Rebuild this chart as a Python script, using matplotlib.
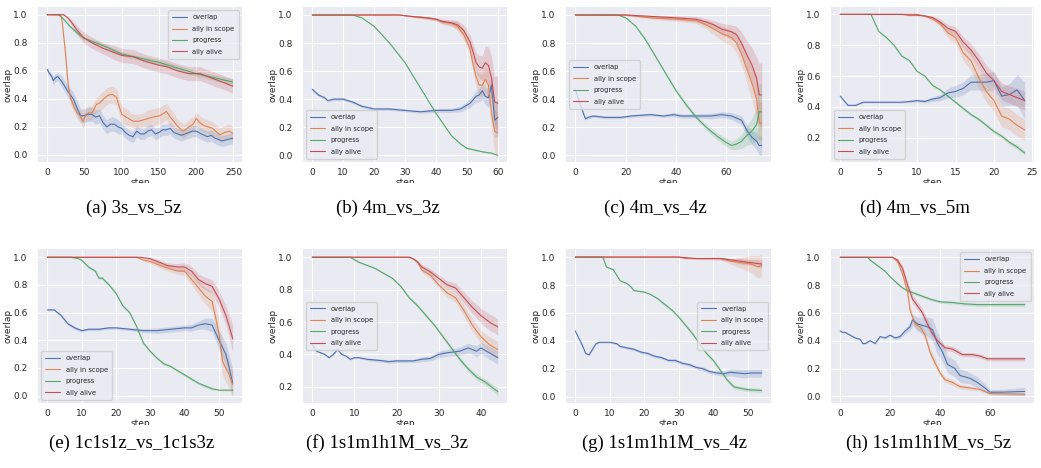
import numpy as np
import matplotlib
matplotlib.use("Agg")
import matplotlib.pyplot as plt
import seaborn as sns
from matplotlib.transforms import Bbox, TransformedBbox

# -----------------------------------------------------------------------------
# Data: (step, mean, half-width of shaded band)
# -----------------------------------------------------------------------------
SERIES_NAMES = ["overlap", "ally in scope", "progress", "ally alive"]
SERIES_COLORS = ["#4C72B0", "#DD8452", "#55A868", "#C44E52"]

# (a) 3s_vs_5z
a_overlap = [(0, .61, .02), (3, .58, .02), (6, .56, .02), (8, .53, .03), (11, .55, .03), (14, .56, .03),
             (20, .52, .04), (28, .45, .04), (35, .40, .05), (42, .31, .05), (45, .28, .05), (50, .28, .05),
             (55, .29, .05), (60, .29, .05), (65, .27, .05), (70, .28, .05), (75, .23, .05), (80, .20, .05),
             (85, .22, .05), (90, .22, .05), (95, .20, .05), (100, .19, .04), (105, .16, .04), (110, .14, .04),
             (115, .13, .04), (120, .17, .04), (125, .15, .04), (130, .15, .04), (135, .17, .04), (140, .18, .04),
             (145, .15, .04), (150, .16, .04), (155, .18, .04), (160, .18, .04), (165, .19, .04), (170, .16, .04),
             (175, .15, .04), (180, .14, .04), (185, .15, .04), (190, .16, .04), (195, .17, .04), (200, .17, .04),
             (207, .15, .04), (215, .13, .04), (220, .14, .04), (225, .12, .04), (230, .11, .04), (235, .10, .04),
             (242, .11, .04), (249, .12, .04)]
a_scope = [(0, 1, 0), (18, 1, 0), (20, .95, .01), (24, .75, .03), (28, .50, .04), (31, .41, .04), (36, .34, .04),
           (40, .30, .04), (44, .28, .04), (48, .24, .05), (52, .29, .05), (56, .30, .05), (60, .30, .05),
           (66, .36, .05), (70, .37, .06), (76, .40, .06), (80, .42, .06), (84, .43, .06), (88, .43, .06),
           (93, .41, .06), (97, .34, .06), (100, .29, .06), (106, .27, .06), (112, .25, .05), (116, .24, .05),
           (122, .24, .05), (129, .25, .05), (135, .26, .06), (142, .27, .06), (151, .28, .06), (160, .31, .06),
           (165, .27, .06), (170, .24, .06), (174, .21, .05), (178, .19, .05), (183, .17, .05), (190, .20, .05),
           (196, .22, .05), (200, .26, .05), (205, .23, .05), (210, .21, .05), (216, .20, .05), (222, .19, .05),
           (228, .16, .05), (232, .145, .05), (238, .16, .05), (244, .17, .05), (249, .155, .05)]
a_progress = [(0, 1, 0), (15, 1, 0), (20, .98, .005), (25, .95, .01), (30, .92, .01), (40, .87, .015),
              (50, .83, .015), (60, .81, .015), (75, .78, .015), (100, .72, .015), (125, .69, .015),
              (150, .66, .02), (175, .62, .02), (200, .58, .02), (225, .55, .02), (249, .52, .025)]
a_alive = [(0, 1, 0), (22, 1, .005), (27, .98, .01), (32, .95, .02), (40, .89, .03), (48, .84, .04),
           (60, .80, .04), (75, .76, .04), (90, .73, .05), (100, .71, .05), (116, .70, .05), (130, .67, .05),
           (150, .64, .05), (160, .63, .05), (175, .60, .05), (190, .58, .05), (205, .58, .05), (225, .54, .05),
           (240, .51, .05), (249, .49, .05)]

# (b) 4m_vs_3z
b_overlap = [(0, .47, .01), (2, .43, .01), (4, .41, .01), (5, .39, .01), (7, .40, .01), (10, .40, .01),
             (13, .38, .01), (16, .35, .01), (20, .33, .01), (25, .33, .01), (30, .32, .01), (35, .31, .01),
             (40, .32, .015), (45, .32, .015), (48, .33, .02), (51, .37, .03), (53, .42, .04), (54, .43, .05),
             (55, .46, .06), (56, .42, .06), (57, .41, .07), (58, .50, .08), (59, .25, .12), (60, .27, .14)]
b_scope = [(0, 1, 0), (28, 1, 0), (32, .99, .005), (37, .98, .01), (40, .97, .01), (42, .95, .015),
           (45, .94, .02), (47, .92, .03), (49, .86, .04), (51, .76, .05), (52, .65, .06), (53, .56, .07),
           (54, .50, .08), (55, .50, .08), (56, .54, .09), (57, .50, .10), (58, .30, .12), (59, .17, .15),
           (60, .16, .15)]
b_progress = [(0, 1, 0), (13, 1, 0), (16, .98, 0), (20, .92, .005), (25, .80, .005), (30, .66, .005),
              (35, .48, .005), (40, .30, .005), (45, .14, .005), (48, .08, .005), (50, .05, .005),
              (55, .025, .005), (58, .015, .005), (60, .0, .005)]
b_alive = [(0, 1, 0), (28, 1, 0), (32, .99, .005), (37, .98, .01), (40, .97, .01), (42, .955, .015),
           (45, .945, .02), (47, .93, .03), (49, .89, .04), (51, .81, .05), (52, .74, .06), (53, .66, .07),
           (54, .63, .08), (55, .62, .09), (56, .66, .12), (57, .64, .13), (58, .55, .15), (59, .38, .18),
           (60, .37, .20)]

# (c) 4m_vs_4z
c_overlap = [(0, .47, .01), (2, .36, .01), (4, .26, .01), (5, .27, .01), (7, .28, .01), (12, .27, .01),
             (18, .27, .01), (22, .28, .01), (30, .29, .01), (35, .28, .01), (39, .29, .015), (42, .28, .015),
             (48, .28, .015), (54, .28, .02), (58, .29, .02), (62, .28, .025), (66, .25, .03), (68, .18, .04),
             (70, .13, .05), (72, .10, .06), (73, .07, .07), (74, .07, .07)]
c_scope = [(0, 1, 0), (20, 1, .005), (30, .98, .01), (40, .97, .015), (48, .96, .02), (52, .93, .03),
           (55, .90, .04), (58, .87, .05), (62, .84, .06), (64, .80, .07), (66, .72, .08), (68, .62, .10),
           (70, .52, .12), (72, .40, .14), (73, .23, .15), (74, .23, .15)]
c_progress = [(0, 1, 0), (17, 1, 0), (20, .98, .005), (24, .92, .005), (28, .82, .01), (32, .70, .01),
              (36, .58, .01), (40, .46, .01), (44, .36, .015), (48, .27, .015), (52, .20, .02), (56, .14, .025),
              (60, .09, .03), (62, .07, .03), (64, .08, .04), (66, .10, .05), (68, .14, .07), (70, .17, .09),
              (72, .22, .12), (73, .31, .20), (74, .31, .20)]
c_alive = [(0, 1, 0), (20, 1, .005), (30, .99, .01), (40, .98, .015), (48, .97, .02), (52, .95, .025),
           (55, .93, .03), (58, .90, .04), (62, .88, .05), (64, .86, .06), (66, .80, .08), (68, .72, .10),
           (70, .65, .12), (72, .55, .15), (73, .43, .22), (74, .43, .24)]

# (d) 4m_vs_5m
d_overlap = [(0, .47, .005), (1, .41, .005), (2, .41, .005), (3, .43, .005), (4, .43, .005), (5, .43, .005),
             (6, .43, .005), (7, .43, .005), (8, .43, .005), (9, .435, .008), (10, .44, .01), (11, .435, .01),
             (12, .45, .015), (13, .46, .02), (14, .49, .03), (15, .50, .04), (16, .52, .04), (17, .56, .05),
             (18, .56, .05), (19, .56, .06), (20, .57, .06), (21, .47, .06), (22, .48, .07), (23, .51, .10),
             (24, .44, .12)]
d_scope = [(0, 1, 0), (10, 1, 0), (11, .99, .005), (12, .97, .01), (13, .94, .02), (14, .88, .03),
           (15, .85, .04), (16, .75, .05), (17, .70, .06), (18, .59, .07), (19, .50, .07), (20, .44, .07),
           (21, .34, .07), (22, .32, .07), (23, .28, .07), (24, .25, .07)]
d_progress = [(0, 1, 0), (4, 1, 0), (5, .89, .005), (6, .85, .005), (7, .80, .005), (8, .73, .005),
              (9, .70, .005), (10, .63, .005), (11, .60, .005), (12, .54, .008), (13, .51, .008), (14, .47, .008),
              (15, .43, .01), (16, .39, .01), (17, .35, .01), (18, .32, .01), (19, .28, .01), (20, .24, .012),
              (21, .21, .012), (22, .17, .012), (23, .14, .015), (24, .10, .015)]
d_alive = [(0, 1, 0), (8, 1, 0), (9, .995, .005), (10, .995, .005), (11, .99, .005), (12, .98, .01),
           (13, .95, .02), (14, .91, .025), (15, .89, .03), (16, .82, .035), (17, .77, .04), (18, .70, .045),
           (19, .62, .05), (20, .57, .05), (21, .50, .055), (22, .48, .055), (23, .46, .06), (24, .44, .06)]

# (e) 1c1s1z_vs_1c1s3z
e_overlap = [(0, .62, .005), (2, .62, .005), (4, .58, .01), (6, .52, .01), (8, .49, .01), (10, .47, .01),
             (12, .48, .01), (15, .48, .01), (18, .49, .01), (20, .49, .01), (24, .48, .01), (28, .47, .015),
             (32, .47, .02), (36, .48, .02), (40, .49, .02), (42, .49, .025), (44, .51, .03), (46, .52, .04),
             (48, .51, .05), (50, .40, .07), (52, .30, .08), (53, .20, .09), (54, .09, .10)]
e_scope = [(0, 1, 0), (26, 1, 0), (28, .98, .01), (30, .97, .015), (34, .93, .02), (38, .90, .025),
           (40, .90, .03), (42, .84, .04), (44, .78, .05), (46, .72, .06), (48, .68, .07), (50, .45, .10),
           (51, .25, .10), (53, .15, .10), (54, .08, .09)]
e_progress = [(0, 1, 0), (7, 1, 0), (9, .99, 0), (10, .98, .005), (12, .93, .01), (14, .90, .01),
              (15, .85, .01), (16, .85, .01), (18, .80, .01), (20, .74, .01), (22, .65, .01), (24, .60, .01),
              (26, .50, .01), (27, .44, .01), (28, .38, .01), (30, .32, .01), (32, .27, .01), (34, .23, .01),
              (36, .21, .01), (38, .18, .01), (40, .15, .01), (42, .12, .01), (44, .09, .01), (46, .07, .01),
              (48, .05, .01), (50, .04, .005), (54, .04, .005)]
e_alive = [(0, 1, 0), (27, 1, 0), (30, .99, .01), (32, .97, .015), (35, .94, .02), (38, .93, .025),
           (40, .93, .03), (42, .90, .035), (44, .84, .04), (46, .81, .045), (48, .79, .05), (50, .70, .06),
           (52, .58, .07), (53, .50, .08), (54, .41, .10)]

# (f) 1s1m1h1M_vs_3z
f_overlap = [(0, .46, .005), (1, .42, .005), (3, .40, .005), (4, .38, .005), (5, .40, .005), (6, .43, .005),
             (7, .40, .005), (8, .39, .005), (9, .37, .005), (10, .38, .005), (11, .38, .005), (13, .37, .008),
             (17, .36, .01), (18, .355, .01), (20, .36, .01), (24, .36, .01), (26, .37, .015), (28, .375, .015),
             (30, .40, .02), (32, .41, .02), (35, .42, .025), (37, .44, .03), (38, .43, .03), (39, .42, .035),
             (40, .44, .035), (42, .41, .04), (44, .38, .04)]
f_scope = [(0, 1, 0), (23, 1, 0), (24, .99, .005), (25, .97, .01), (26, .92, .015), (28, .89, .02),
           (30, .83, .02), (32, .78, .025), (34, .75, .03), (36, .67, .035), (38, .58, .04), (40, .51, .04),
           (42, .46, .05), (44, .43, .05)]
f_progress = [(0, 1, 0), (9, 1, 0), (11, .97, .005), (13, .95, .005), (15, .93, .005), (17, .90, .005),
              (19, .87, .005), (21, .82, .008), (23, .75, .008), (25, .70, .01), (27, .64, .01), (29, .58, .01),
              (31, .51, .012), (33, .44, .012), (35, .37, .015), (37, .31, .015), (39, .26, .02), (41, .23, .02),
              (43, .19, .02), (44, .17, .025)]
f_alive = [(0, 1, 0), (23, 1, 0), (24, .99, .005), (25, .97, .01), (26, .94, .015), (28, .91, .02),
           (30, .87, .02), (32, .83, .025), (34, .81, .03), (36, .75, .035), (38, .69, .04), (40, .64, .045),
           (42, .60, .05), (44, .57, .05)]

# (g) 1s1m1h1M_vs_4z
g_overlap = [(0, .47, .005), (1, .42, .005), (2, .37, .005), (3, .31, .005), (4, .30, .005), (5, .34, .005),
             (6, .38, .005), (7, .39, .005), (10, .39, .005), (12, .38, .008), (13, .36, .008), (15, .35, .01),
             (17, .34, .01), (19, .32, .01), (21, .31, .01), (23, .29, .01), (25, .28, .01), (27, .26, .01),
             (29, .26, .012), (31, .24, .012), (33, .23, .012), (35, .21, .012), (37, .20, .015), (39, .18, .015),
             (41, .17, .015), (43, .165, .02), (45, .175, .025), (47, .17, .03), (49, .165, .03), (51, .17, .03),
             (54, .17, .03)]
g_scope = [(0, 1, 0), (30, 1, 0), (32, .99, .005), (42, .99, .01), (45, .97, .02), (48, .96, .04),
           (51, .95, .06), (53, .93, .08), (54, .94, .08)]
g_progress = [(0, 1, 0), (8, 1, 0), (9, .93, .005), (11, .91, .005), (12, .87, .005), (13, .83, .005),
              (15, .81, .005), (16, .79, .005), (17, .76, .005), (20, .75, .005), (22, .73, .005), (24, .70, .008),
              (26, .66, .008), (28, .62, .008), (30, .57, .01), (32, .51, .01), (34, .45, .01), (36, .38, .01),
              (38, .31, .01), (40, .26, .012), (42, .19, .012), (44, .12, .015), (46, .07, .015), (48, .06, .015),
              (50, .05, .015), (54, .045, .015)]
g_alive = [(0, 1, 0), (30, 1, 0), (35, .99, .005), (42, .99, .01), (45, .98, .01), (48, .97, .02),
           (51, .96, .02), (54, .95, .03)]

# (h) 1s1m1h1M_vs_5z
h_overlap = [(0, .47, .005), (1, .46, .005), (2, .46, .005), (4, .44, .005), (6, .42, .005), (8, .41, .005),
             (9, .38, .005), (10, .38, .005), (12, .40, .005), (14, .38, .005), (16, .43, .005), (18, .42, .005),
             (20, .44, .01), (22, .42, .01), (24, .43, .015), (26, .47, .02), (28, .50, .03), (29, .55, .04),
             (31, .52, .05), (33, .51, .06), (35, .50, .07), (37, .48, .08), (39, .38, .08), (41, .32, .07),
             (43, .23, .06), (46, .20, .06), (48, .15, .05), (52, .13, .04), (55, .10, .04), (58, .06, .03),
             (60, .03, .02), (65, .03, .02), (74, .035, .03)]
h_scope = [(0, 1, 0), (21, 1, 0), (23, .97, .02), (25, .88, .03), (27, .75, .03), (28, .62, .03),
           (30, .52, .03), (32, .50, .03), (34, .44, .03), (36, .32, .03), (38, .24, .03), (40, .17, .02),
           (42, .12, .02), (45, .10, .02), (48, .07, .015), (52, .06, .015), (56, .05, .01), (60, .02, .01),
           (74, .015, .01)]
h_progress = [(0, 1, 0), (11, 1, 0), (12, .98, .005), (15, .94, .005), (18, .90, .005), (20, .86, .005),
              (23, .81, .008), (25, .78, .008), (27, .76, .008), (30, .74, .01), (33, .72, .01), (36, .70, .01),
              (40, .68, .01), (45, .675, .01), (50, .665, .01), (55, .66, .012), (60, .66, .012), (74, .66, .015)]
h_alive = [(0, 1, 0), (21, 1, 0), (23, .98, .01), (25, .92, .02), (27, .80, .03), (29, .70, .03),
           (31, .65, .03), (33, .60, .03), (35, .52, .03), (37, .45, .03), (39, .40, .02), (42, .35, .02),
           (45, .34, .02), (47, .32, .02), (49, .30, .015), (53, .30, .015), (56, .29, .015), (59, .27, .015),
           (74, .27, .015)]

CAPTIONS = ["(a) 3s_vs_5z", "(b) 4m_vs_3z", "(c) 4m_vs_4z", "(d) 4m_vs_5m",
            "(e) 1c1s1z_vs_1c1s3z", "(f) 1s1m1h1M_vs_3z", "(g) 1s1m1h1M_vs_4z", "(h) 1s1m1h1M_vs_5z"]
PANELS = [
    [a_overlap, a_scope, a_progress, a_alive],
    [b_overlap, b_scope, b_progress, b_alive],
    [c_overlap, c_scope, c_progress, c_alive],
    [d_overlap, d_scope, d_progress, d_alive],
    [e_overlap, e_scope, e_progress, e_alive],
    [f_overlap, f_scope, f_progress, f_alive],
    [g_overlap, g_scope, g_progress, g_alive],
    [h_overlap, h_scope, h_progress, h_alive],
]
LEGEND_LOCS = ["upper right", "lower left", "center left", "lower left",
               "lower left", "center left", "center right", "upper right"]
YLIMS = [(-0.05, 1.055), (-0.048, 1.057), (-0.048, 1.057), (0.042, 1.048),
         (-0.053, 1.06), (0.10, 1.051), (-0.045, 1.058), (-0.048, 1.06)]

# -----------------------------------------------------------------------------
# Layout (pixels of a 1041x468 canvas)
# -----------------------------------------------------------------------------
W, H = 1041, 468
COL_X = [(38, 242), (303, 507), (566, 771), (831, 1034)]
ROW_Y = [(7, 162), (249, 403)]
STEP_CLIP_Y = [182.5, 424.5]
CAPTION_X = [134, 388, 655, 915, 132, 387, 665, 929]
CAPTION_Y = [208, 443]

sns.set_style("darkgrid")
plt.rcParams["font.family"] = ["DejaVu Sans"]

fig = plt.figure(figsize=(W / 100, H / 100), dpi=100)

for k, series in enumerate(PANELS):
    row, col = divmod(k, 4)
    x0, x1 = COL_X[col]
    y0, y1 = ROW_Y[row]
    ax = fig.add_axes([x0 / W, 1 - y1 / H, (x1 - x0) / W, (y1 - y0) / H])

    for name, color, pts in zip(SERIES_NAMES, SERIES_COLORS, series):
        arr = np.array(pts, dtype=float)
        steps, mean, half = arr[:, 0], arr[:, 1], arr[:, 2]
        ax.plot(steps, mean, color=color, lw=0.8, label=name)
        ax.fill_between(steps, mean - half, mean + half, color=color, alpha=0.2, lw=0)

    ax.set_ylim(*YLIMS[k])
    ax.tick_params(axis="x", labelsize=6.5, pad=0.6, colors=".15")
    ax.tick_params(axis="y", labelsize=6.5, pad=4, colors=".15")
    ax.set_xlabel("step", fontsize=6.5, labelpad=0.8, color=".15")
    ax.set_ylabel("overlap", fontsize=6.5, labelpad=0.5, color=".15")
    for sp in ax.spines.values():
        sp.set_visible(False)

    # the reference image cuts the x label in half
    ax.xaxis.label.set_clip_box(TransformedBbox(Bbox([[0, 1 - STEP_CLIP_Y[row] / H], [1, 1]]),
                                                fig.transFigure))
    ax.xaxis.label.set_clip_on(True)

    leg = ax.legend(loc=LEGEND_LOCS[k], fontsize=4.9, handlelength=2.2, borderpad=0.6,
                    labelspacing=0.8, handletextpad=0.75)
    for t in leg.get_texts():
        t.set_color(".15")

    fig.text(CAPTION_X[k] / W, 1 - CAPTION_Y[row] / H, CAPTIONS[k], ha="center", va="center",
             fontsize=13.5, family="Liberation Serif", color="black")

fig.savefig("out.png", dpi=100, facecolor="white")
